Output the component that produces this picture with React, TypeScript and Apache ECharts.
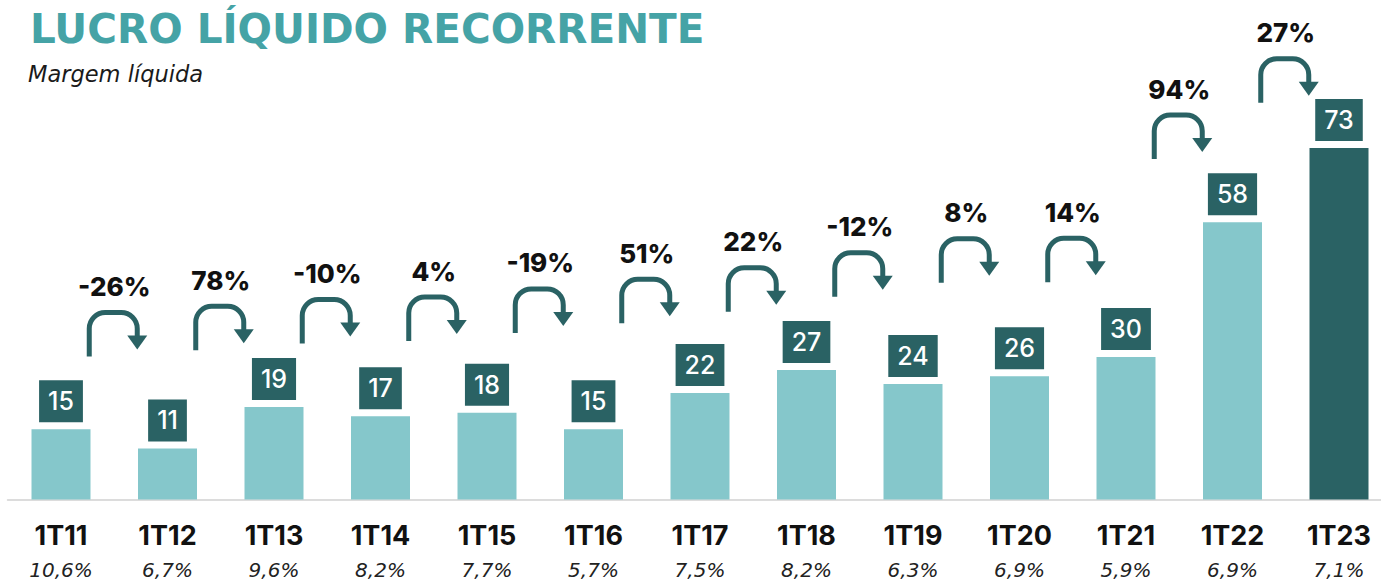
import React, { useEffect, useRef } from "react";
import * as echarts from "echarts";

const categories = ["1T11", "1T12", "1T13", "1T14", "1T15", "1T16", "1T17", "1T18", "1T19", "1T20", "1T21", "1T22", "1T23"];
const margins = ["10,6%", "6,7%", "9,6%", "8,2%", "7,7%", "5,7%", "7,5%", "8,2%", "6,3%", "6,9%", "5,9%", "6,9%", "7,1%"];
const profit = [14.6, 10.6, 19.2, 17.3, 18.0, 14.6, 22.1, 26.9, 24.0, 25.6, 29.6, 57.6, 73.0];
const growth = ["-26%", "78%", "-10%", "4%", "-19%", "51%", "22%", "-12%", "8%", "14%", "94%", "27%"];
// level (in profit units) where each growth arrow's stem starts
const arrowLevel = [29.7, 31.0, 32.4, 32.9, 34.6, 36.6, 39.0, 42.1, 45.0, 45.1, 70.7, 82.4];

const TITLE = "LUCRO LÍQUIDO RECORRENTE";
const SUBTITLE = "Margem líquida";

const LIGHT = "#85c7cb";
const DARK = "#2a6264";
const TITLE_COLOR = "#45a3a6";
const FONT = "Inter, 'Open Sans', sans-serif";
const WIDE = "'DejaVu Sans', sans-serif";

export default function App() {
  const ref = useRef<HTMLDivElement>(null);

  useEffect(() => {
    if (!ref.current) return;
    const chart = echarts.init(ref.current, undefined, { renderer: "svg" });
    const last = profit.length - 1;

    const option: any = {
      animation: false,
      backgroundColor: "#ffffff",
      grid: {
        left: 7.75,
        width: 1384.5,
        top: 18,
        bottom: 83.5,
        containLabel: false,
        outerBoundsMode: "none",
      },
      xAxis: {
        type: "category",
        data: categories,
        boundaryGap: true,
        axisTick: { show: false },
        axisLine: { show: true, lineStyle: { color: "#dcdcdc", width: 2 } },
        axisLabel: {
          interval: 0,
          margin: 19,
          formatter: (v: string, idx: number) => `{a|${v}}\n{b|${margins[idx]}}`,
          rich: {
            a: { fontFamily: FONT, fontSize: 27, fontWeight: 700, color: "#111111", lineHeight: 34 },
            b: { fontFamily: WIDE, fontSize: 20, fontStyle: "italic", fontWeight: 400, color: "#222222", lineHeight: 34 },
          },
        },
      },
      yAxis: { type: "value", min: 0, max: 100, show: false, splitLine: { show: false } },
      graphic: [
        {
          type: "text",
          left: 30,
          top: 8,
          style: { text: TITLE, font: `bold 40.5px ${WIDE}`, fill: TITLE_COLOR },
        },
        {
          type: "text",
          left: 28,
          top: 62,
          style: { text: SUBTITLE, font: `italic 400 22.5px ${WIDE}`, fill: "#1a1a1a" },
        },
      ],
      series: [
        {
          type: "bar",
          barWidth: 59,
          data: profit.map((v, i) => ({ value: v, itemStyle: { color: i === last ? DARK : LIGHT } })),
          label: {
            show: true,
            position: "top",
            distance: 7,
            formatter: (p: any) => String(Math.round(p.value)),
            color: "#ffffff",
            backgroundColor: DARK,
            padding: [8, 9, 8, 9],
            fontFamily: FONT,
            fontSize: 25,
            fontWeight: 500,
            lineHeight: 26,
          },
        },
        {
          type: "custom",
          coordinateSystem: "cartesian2d",
          z: 5,
          data: arrowLevel.map((lv, i) => [i, lv]),
          renderItem: (params: any, api: any) => {
            const i = api.value(0);
            const lv = api.value(1);
            const p1 = api.coord([i, lv]);
            const p2 = api.coord([i + 1, lv]);
            const mid = (p1[0] + p2[0]) / 2;
            const x0 = mid - 25;
            const x1 = mid + 23;
            const yb = p1[1];
            const yt = yb - 44;
            const r = 16;
            const d = `M${x0} ${yb} L${x0} ${yt + r} A${r} ${r} 0 0 1 ${x0 + r} ${yt} L${x1 - r} ${yt} A${r} ${r} 0 0 1 ${x1} ${yt + r} L${x1} ${yb - 20}`;
            return {
              type: "group",
              children: [
                {
                  type: "path",
                  shape: { pathData: d },
                  style: { fill: "none", stroke: DARK, lineWidth: 5 },
                },
                {
                  type: "polygon",
                  shape: { points: [[x1 - 10, yb - 21], [x1 + 10, yb - 21], [x1, yb - 7]] },
                  style: { fill: DARK },
                },
                {
                  type: "text",
                  style: {
                    text: growth[params.dataIndex],
                    x: mid,
                    y: yt - 26,
                    align: "center",
                    verticalAlign: "middle",
                    font: `800 26px ${FONT}`,
                    fill: "#111111",
                  },
                },
              ],
            };
          },
        },
      ],
    };
    chart.setOption(option);
    return () => chart.dispose();
  }, []);

  return (
    <div
      ref={ref}
      style={{ position: "absolute", left: 0, top: 0, width: 1381, height: 583, background: "#ffffff" }}
    />
  );
}
